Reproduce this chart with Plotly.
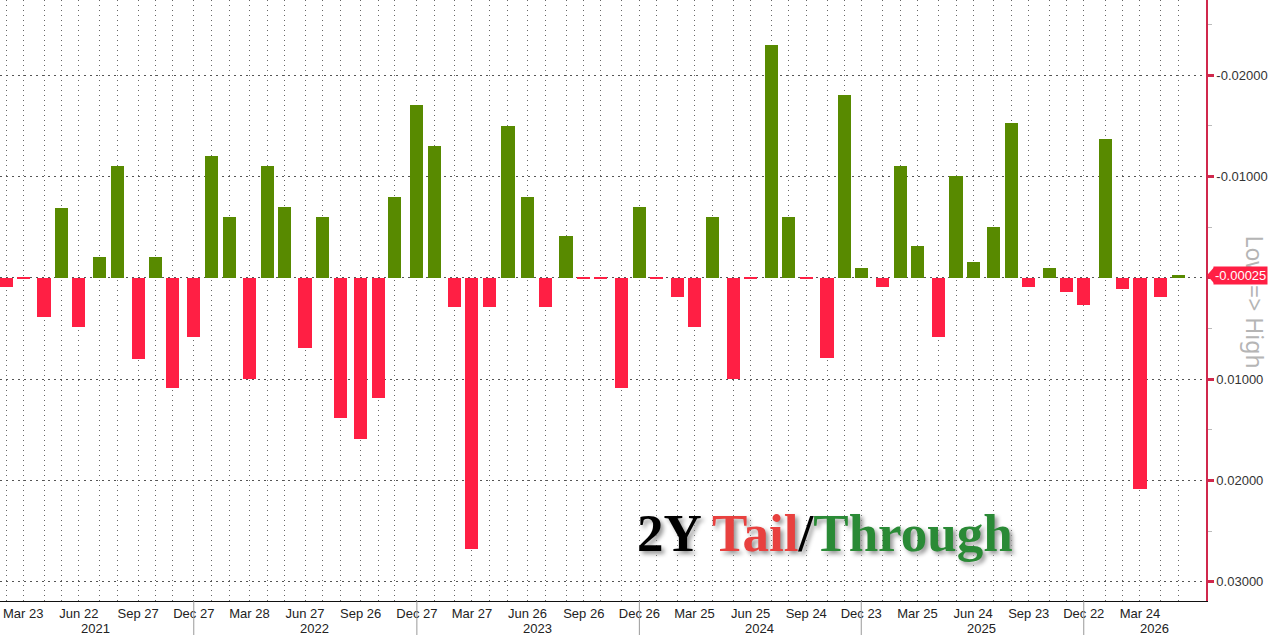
import plotly.graph_objects as go

# 2Y auction dates (Feb 2021 - May 2026)
dates = [
    "2021-02-24", "2021-03-23", "2021-04-26", "2021-05-25", "2021-06-22", "2021-07-26",
    "2021-08-24", "2021-09-27", "2021-10-26", "2021-11-22", "2021-12-27",
    "2022-01-25", "2022-02-24", "2022-03-28", "2022-04-26", "2022-05-24", "2022-06-27",
    "2022-07-25", "2022-08-24", "2022-09-26", "2022-10-25", "2022-11-21", "2022-12-27",
    "2023-01-25", "2023-02-27", "2023-03-27", "2023-04-25", "2023-05-25", "2023-06-26",
    "2023-07-25", "2023-08-28", "2023-09-26", "2023-10-24", "2023-11-27", "2023-12-26",
    "2024-01-23", "2024-02-26", "2024-03-25", "2024-04-23", "2024-05-28", "2024-06-25",
    "2024-07-29", "2024-08-26", "2024-09-24", "2024-10-28", "2024-11-25", "2024-12-23",
    "2025-01-27", "2025-02-25", "2025-03-25", "2025-04-28", "2025-05-27", "2025-06-24",
    "2025-07-28", "2025-08-26", "2025-09-23", "2025-10-27", "2025-11-24", "2025-12-22",
    "2026-01-27", "2026-02-24", "2026-03-24", "2026-04-27", "2026-05-26",
]

# tail (+) / through (-), in percentage points
tails = [
    0.0009, 0.0001, 0.0039, -0.0069, 0.0049, -0.0020,
    -0.0110, 0.0080, -0.0020, 0.0109, 0.0059,
    -0.0120, -0.0060, 0.0100, -0.0110, -0.0070, 0.0069,
    -0.0060, 0.0138, 0.0159, 0.0119, -0.0080, -0.0170,
    -0.0130, 0.0029, 0.0268, 0.0029, -0.0150, -0.0080,
    0.0029, -0.0041, 0.0001, 0.0001, 0.0109, -0.0070,
    0.0001, 0.0019, 0.0049, -0.0060, 0.0100, 0.0001,
    -0.0230, -0.0060, 0.0001, 0.0079, -0.0180, -0.0010,
    0.0009, -0.0110, -0.0031, 0.0059, -0.0100, -0.0015,
    -0.0050, -0.0153, 0.0009, -0.0010, 0.0014, 0.0027,
    -0.0137, 0.0011, 0.0208, 0.0019, -0.00025,
]

quarter_months = ["03", "06", "09", "12"]
month_names = {"03": "Mar", "06": "Jun", "09": "Sep", "12": "Dec"}
x_ticktext = [month_names[d[5:7]] + " " + d[8:10] if d[5:7] in quarter_months else "" for d in dates]

years = ["2021", "2022", "2023", "2024", "2025", "2026"]
year_centers = ["2021-07-20", "2022-07-12", "2023-07-12", "2024-07-10", "2025-07-08", "2026-04-16"]
year_breaks = ["2021-12-27", "2022-12-27", "2023-12-26", "2024-12-23", "2025-12-22"]

y_tickvals = [-0.02, -0.01, 0.0, 0.01, 0.02, 0.03]
y_ticktext = ["-0.02000", "-0.01000", "", "0.01000", "0.02000", "0.03000"]
y_minorvals = [-0.025, -0.015, -0.005, 0.005, 0.015, 0.025]

last_value = tails[-1]

RED = "#ff1f44"
GREEN = "#588a00"
AXIS = "#d0284c"

fig = go.Figure()
fig.add_trace(go.Bar(
    x=dates, y=tails,
    marker_color=[RED if v > 0 else GREEN for v in tails],
    marker_line_width=0,
    width=21.5 * 86400000,
))

fig.update_layout(
    width=1273, height=635,
    margin=dict(l=0, r=67, t=0, b=34),
    paper_bgcolor="white", plot_bgcolor="white",
    showlegend=False,
    font=dict(family="Liberation Sans", size=13, color="#222"),
    xaxis=dict(
        type="date",
        range=["2021-02-13", "2026-07-10"],
        tickmode="array", tickvals=dates, ticktext=x_ticktext,
        ticks="", showgrid=True, gridcolor="#666", griddash="1px,4px", gridwidth=1,
        showline=True, linecolor="#111", linewidth=1,
        tickfont=dict(size=13, color="#222"),
        zeroline=False,
    ),
    yaxis=dict(
        side="right",
        range=[0.0319, -0.0274],
        tickmode="array", tickvals=y_tickvals, ticktext=y_ticktext,
        showgrid=True, gridcolor="#555", griddash="2px,4px", gridwidth=1,
        zeroline=False,
        showline=True, linecolor=AXIS, linewidth=1.5,
        ticks="outside", ticklen=6, tickwidth=3, tickcolor=AXIS,
        tickfont=dict(size=13, color="#333"),
        minor=dict(tickmode="array", tickvals=y_minorvals, ticks="outside",
                   ticklen=4, tickwidth=1, tickcolor="#bbb", showgrid=False),
    ),
    bargap=0,
)

# year separators below the axis
for b in year_breaks:
    fig.add_shape(type="line", xref="x", yref="paper", x0=b, x1=b, y0=0, y1=-0.057,
                  line=dict(color="#999", width=1))

for yr, c in zip(years, year_centers):
    fig.add_annotation(x=c, y=-0.045, xref="x", yref="paper", text=yr, showarrow=False,
                       xanchor="center", yanchor="middle", font=dict(size=13, color="#222"))

# axis caption (drawn under the last value tag)
fig.add_annotation(x=1.0405, y=0.497, xref="paper", yref="paper", text="Low => High",
                   textangle=90, showarrow=False, xanchor="center", yanchor="middle",
                   font=dict(family="Noto Sans", size=23, color="#b5b5b5"))

# last value tag
fig.add_shape(type="path", xref="paper", yref="y", xsizemode="pixel", ysizemode="pixel",
              xanchor=1, yanchor=last_value,
              path="M 1,0 L 8,8 L 8,-8 Z", fillcolor=RED, line_width=0)
fig.add_annotation(x=1, y=last_value, xref="paper", yref="y", xanchor="left", xshift=7,
                   yanchor="middle", text="-0.00025", showarrow=False, bgcolor=RED,
                   font=dict(size=13, color="white"), borderpad=1)

# title
fig.add_annotation(
    x=0.684, y=0.113, xref="paper", yref="paper", showarrow=False,
    xanchor="center", yanchor="middle",
    text="<b>2Y <span style='color:#e8413f'>Tail</span>/<span style='color:#2a8a36'>Through</span></b>",
    font=dict(family="Liberation Serif", size=53, color="#000", shadow="3px 3px 4px #999"),
)

fig.write_html("out.html", config={"displayModeBar": False},
               post_script="document.body.style.margin='0';document.body.style.overflow='hidden';")
